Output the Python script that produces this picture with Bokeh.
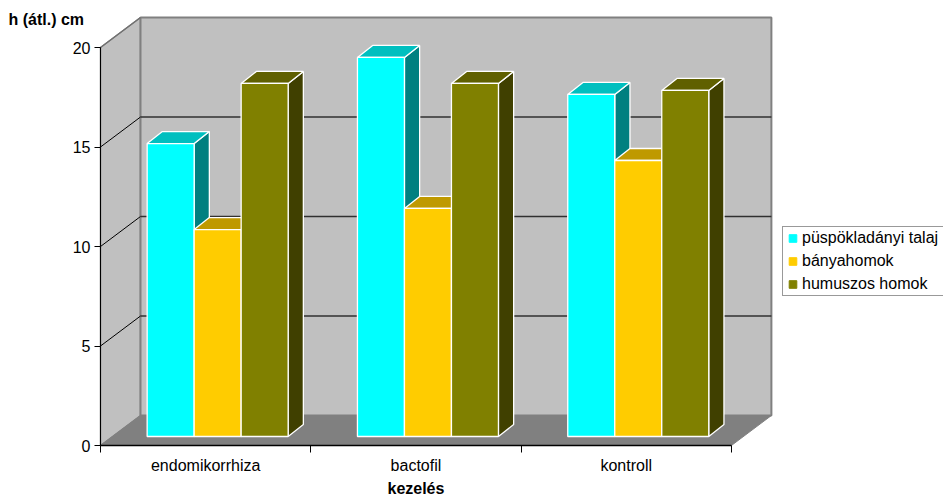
from bokeh.embed import file_html
from bokeh.models import FixedTicker, Label, Legend, LegendItem, Range1d
from bokeh.plotting import figure
from bokeh.resources import INLINE

categories = ["endomikorrhiza", "bactofil", "kontroll"]
series_names = ["püspökladányi talaj", "bányahomok", "humuszos homok"]
puspokladanyi = [14.72, 19.05, 17.19]
banyahomok = [10.4, 11.46, 13.87]
humuszos = [17.74, 17.74, 17.39]
y_ticks = [0, 5, 10, 15, 20]

series_values = [puspokladanyi, banyahomok, humuszos]
face_colors = [
    ("#00FFFF", "#00BFBF", "#008080"),
    ("#FFCC00", "#BF9900", "#806600"),
    ("#808000", "#606000", "#404000"),
]

# Oblique projection: a full step through the depth of the box shifts a point
# right by DEPTH_X category widths and up by DEPTH_Y value units.
PX_PER_CATEGORY = 210.3
PX_PER_UNIT = 19.9
DEPTH_X = 40 / PX_PER_CATEGORY
DEPTH_Y = 30 / PX_PER_UNIT
BAR_WIDTH = 47 / PX_PER_CATEGORY
BAR_NEAR, BAR_FAR = 0.3, 0.7
GROUP_GAP = (1 - 3 * BAR_WIDTH) / 2
N = len(categories)

# The plot frame fills the page; the axes are pinned at the box's front corner
WIDTH, HEIGHT = 943, 496
ORIGIN_X, ORIGIN_Y = 100, 445
p = figure(
    width=WIDTH, height=HEIGHT, output_backend="svg", toolbar_location=None,
    x_range=Range1d(-ORIGIN_X / PX_PER_CATEGORY, (WIDTH - ORIGIN_X) / PX_PER_CATEGORY),
    y_range=Range1d((ORIGIN_Y - HEIGHT) / PX_PER_UNIT, ORIGIN_Y / PX_PER_UNIT),
    min_border=0,
    background_fill_color="white", border_fill_color="white", outline_line_color=None,
)
p.xgrid.visible = False
p.ygrid.visible = False

WALL = "#C0C0C0"
FLOOR = "#808080"
EDGE = "#808080"

# Box walls and floor
p.patch([0, 0, DEPTH_X, DEPTH_X], [0, 20, 20 + DEPTH_Y, DEPTH_Y],
        fill_color=WALL, line_color=EDGE, line_width=1.5)
p.patch([DEPTH_X, N + DEPTH_X, N + DEPTH_X, DEPTH_X],
        [DEPTH_Y, DEPTH_Y, 20 + DEPTH_Y, 20 + DEPTH_Y],
        fill_color=WALL, line_color=EDGE, line_width=2)
p.patch([0, N, N + DEPTH_X, DEPTH_X], [0, 0, DEPTH_Y, DEPTH_Y],
        fill_color=FLOOR, line_color=FLOOR, line_width=1)

# Gridlines run across the side wall and then along the back wall
for tick in y_ticks[1:-1]:
    p.line([0, DEPTH_X], [tick, tick + DEPTH_Y], line_color="#000000", line_width=1)
    p.line([DEPTH_X, N + DEPTH_X], [tick + DEPTH_Y, tick + DEPTH_Y],
           line_color="#303030", line_width=1.3)
p.line([0, DEPTH_X], [20, 20 + DEPTH_Y], line_color="#707070", line_width=1.2)

# Bars, painted from left to right so each front face covers its neighbour's side
legend_items = []
for s, (name, values, colors) in enumerate(zip(series_names, series_values, face_colors)):
    front, top, side = colors
    lefts, rights, bottoms, tops = [], [], [], []
    top_xs, top_ys, side_xs, side_ys = [], [], [], []
    for c, v in enumerate(values):
        x0 = c + GROUP_GAP + s * BAR_WIDTH + BAR_NEAR * DEPTH_X
        x1 = x0 + BAR_WIDTH
        y0 = BAR_NEAR * DEPTH_Y
        y1 = y0 + v
        dx = (BAR_FAR - BAR_NEAR) * DEPTH_X * 0.95
        dy = (BAR_FAR - BAR_NEAR) * DEPTH_Y
        lefts.append(x0)
        rights.append(x1)
        bottoms.append(y0)
        tops.append(y1)
        top_xs.append([x0, x1, x1 + dx, x0 + dx])
        top_ys.append([y1, y1, y1 + dy, y1 + dy])
        side_xs.append([x1, x1 + dx, x1 + dx, x1])
        side_ys.append([y0, y0 + dy, y1 + dy, y1])
    p.patches(side_xs, side_ys, fill_color=side, line_color="white", line_width=1.3)
    p.patches(top_xs, top_ys, fill_color=top, line_color="white", line_width=1.3)
    # Small squares inside each bar supply the legend's swatch; the front face covers them
    swatch = p.scatter(x=[(a + b) / 2 for a, b in zip(lefts, rights)],
                       y=[(a + b) / 2 for a, b in zip(bottoms, tops)],
                       marker="square", size=4, fill_color=front, line_color=front)
    p.quad(left=lefts, right=rights, bottom=bottoms, top=tops,
           fill_color=front, line_color="white", line_width=1.3)
    legend_items.append(LegendItem(label=name, renderers=[swatch]))

FONT = "Liberation Sans"
TEXT_SIZE = "16px"

# Value axis
yaxis = p.yaxis[0]
yaxis.fixed_location = 0
yaxis.bounds = (0, 20)
yaxis.ticker = FixedTicker(ticks=y_ticks)
yaxis.axis_line_color = "#000000"
yaxis.axis_line_width = 1
yaxis.major_tick_line_color = "#000000"
yaxis.major_tick_in = 0
yaxis.major_tick_out = 6
yaxis.minor_tick_out = 0
yaxis.minor_tick_in = 0
yaxis.major_label_text_font = FONT
yaxis.major_label_text_font_size = TEXT_SIZE
yaxis.major_label_text_color = "#000000"
yaxis.major_label_standoff = 4

# Category axis: labels sit mid-slot, ticks sit between the slots
xaxis = p.xaxis[0]
xaxis.fixed_location = 0
xaxis.bounds = (0, N)
xaxis.ticker = FixedTicker(ticks=[i + 0.5 for i in range(N)], minor_ticks=list(range(N + 1)))
xaxis.major_label_overrides = {i + 0.5: name for i, name in enumerate(categories)}
xaxis.axis_line_color = "#000000"
xaxis.axis_line_width = 1.5
xaxis.major_tick_in = 0
xaxis.major_tick_out = 0
xaxis.minor_tick_in = 0
xaxis.minor_tick_out = 7
xaxis.minor_tick_line_color = "#000000"
xaxis.major_label_text_font = FONT
xaxis.major_label_text_font_size = TEXT_SIZE
xaxis.major_label_text_color = "#000000"
xaxis.major_label_standoff = 4

# Axis titles
p.add_layout(Label(x=N / 2, y=-43 / PX_PER_UNIT, text="kezelés",
                   text_font=FONT, text_font_size=TEXT_SIZE, text_font_style="bold",
                   text_color="#000000", text_align="center", text_baseline="middle"))
p.add_layout(Label(x=8, y=HEIGHT - 19, x_units="screen", y_units="screen", text="h (átl.) cm",
                   text_font=FONT, text_font_size=TEXT_SIZE, text_font_style="bold",
                   text_color="#000000", text_baseline="middle"))

legend = Legend(
    items=legend_items, location=(782, HEIGHT - 296),
    label_text_font=FONT, label_text_font_size=TEXT_SIZE, label_text_color="#000000",
    glyph_width=19, glyph_height=22, label_standoff=-3, label_height=14, label_width=170,
    spacing=1, padding=0, margin=0, border_line_color="#333333", border_line_width=1,
    background_fill_color="white", background_fill_alpha=1,
)
p.add_layout(legend, "center")

open("out.html", "w").write(file_html(p, INLINE))
